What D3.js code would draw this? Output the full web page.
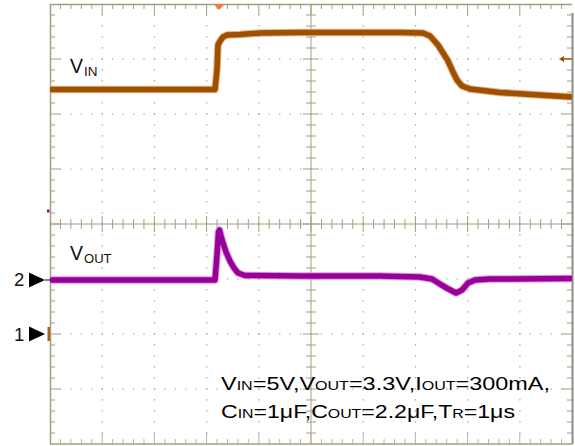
<!DOCTYPE html>
<html><head><meta charset="utf-8">
<script src="https://cdn.jsdelivr.net/npm/d3@7"></script>
<style>body{margin:0;background:#fff;overflow:hidden}</style>
</head><body><svg id="c" width="575" height="446"></svg>
<script>
// Time in horizontal divisions (0..10), levels in vertical divisions (-4..4, 0 = screen centre)
const vinTime  = [0, 3.161, 3.199, 3.218, 3.257, 3.314, 3.391, 3.640, 4.023, 4.789, 6.705, 7.146, 7.280, 7.433, 7.615, 7.720, 7.797, 7.893, 8.046, 8.621, 9.387, 10];
const vinLevel = [2.445, 2.445, 2.80, 3.255, 3.327, 3.40, 3.436, 3.445, 3.473, 3.482, 3.482, 3.473, 3.418, 3.255, 2.982, 2.764, 2.618, 2.509, 2.455, 2.391, 2.345, 2.309];
const voutTime  = [0, 3.161, 3.199, 3.228, 3.247, 3.276, 3.314, 3.372, 3.448, 3.525, 3.602, 3.736, 4.789, 6.322, 7.088, 7.318, 7.471, 7.634, 7.778, 7.893, 8.008, 8.142, 8.429, 10];
const voutLevel = [-1.018, -1.018, -0.564, -0.145, -0.109, -0.218, -0.345, -0.509, -0.673, -0.80, -0.891, -0.936, -0.945, -0.945, -0.964, -1.0, -1.091, -1.182, -1.255, -1.20, -1.073, -1.018, -1.0, -0.991];
const groundMarkers = [{label: "2", level: -1.018}, {label: "1", level: -2.0}];
const triggerTime = 3.24;
const triggerLevel = 3.0;
const hDivs = d3.range(0, 11);
const vDivs = d3.range(-4, 5);
const line1 = [["V",0],["IN",1],["=5V,V",0],["OUT",1],["=3.3V,I",0],["OUT",1],["=300mA,",0]];
const line2 = [["C",0],["IN",1],["=1μF,C",0],["OUT",1],["=2.2μF,T",0],["R",1],["=1μs",0]];

const svg = d3.select("#c");
const x = d3.scaleLinear().domain([0, 10]).range([50, 572]);
const y = d3.scaleLinear().domain([-4, 4]).range([444, 4]);
const frame = "#a39e80", dotC = "#b3ae96";
const g = svg.append("g");

// dotted grid
const minorT = d3.range(1, 50).map(i => i * 0.2);
const minorV = d3.range(-19, 20).map(i => i * 0.2);
hDivs.filter(d => d > 0 && d < 10 && d !== 5).forEach(t => {
  g.selectAll(null).data(minorV.filter(v => Math.abs(v) < 3.95)).enter().append("rect")
    .attr("x", x(t) - 0.5).attr("y", v => y(v) - 1).attr("width", 1.2).attr("height", 1.6).attr("fill", dotC);
});
vDivs.filter(d => d > -4 && d < 4 && d !== 0).forEach(v => {
  g.selectAll(null).data(minorT).enter().append("rect")
    .attr("x", t => x(t) - 0.6).attr("y", y(v) - 0.6).attr("width", 1.3).attr("height", 1.3).attr("fill", dotC);
});

// centre axes
g.append("line").attr("x1", x(0)).attr("x2", x(10)).attr("y1", y(0)).attr("y2", y(0)).attr("stroke", frame);
g.append("line").attr("x1", x(5)).attr("x2", x(5)).attr("y1", y(-4)).attr("y2", y(4)).attr("stroke", frame);
const isMajor = v => Math.abs(v - Math.round(v)) < 1e-6;
g.selectAll(null).data(minorT).enter().append("line")
  .attr("x1", t => x(t)).attr("x2", t => x(t))
  .attr("y1", t => y(0) - (isMajor(t) ? 8 : 5)).attr("y2", t => y(0) + (isMajor(t) ? 8 : 5))
  .attr("stroke", frame);
g.selectAll(null).data(minorV).enter().append("line")
  .attr("y1", v => y(v)).attr("y2", v => y(v))
  .attr("x1", v => x(5) - (isMajor(v) ? 8 : 5)).attr("x2", v => x(5) + (isMajor(v) ? 8 : 5))
  .attr("stroke", frame);

// border ticks
g.selectAll(null).data(minorT).enter().append("line")
  .attr("x1", t => x(t)).attr("x2", t => x(t)).attr("y1", y(4)).attr("y2", t => y(4) + (isMajor(t) ? 11 : 5)).attr("stroke", frame);
g.selectAll(null).data(minorT).enter().append("line")
  .attr("x1", t => x(t)).attr("x2", t => x(t)).attr("y1", y(-4)).attr("y2", t => y(-4) - (isMajor(t) ? 11 : 5)).attr("stroke", "#bdb8a0");
g.selectAll(null).data(minorV).enter().append("line")
  .attr("y1", v => y(v)).attr("y2", v => y(v)).attr("x1", x(0)).attr("x2", v => x(0) + (isMajor(v) ? 10 : 5)).attr("stroke", frame);
g.selectAll(null).data(minorV).enter().append("line")
  .attr("y1", v => y(v)).attr("y2", v => y(v)).attr("x1", x(10)).attr("x2", v => x(10) - (isMajor(v) ? 10 : 5)).attr("stroke", frame);

// frame
g.append("line").attr("x1", x(0)+0.5).attr("x2", x(0)+0.5).attr("y1", y(4)).attr("y2", y(-4)).attr("stroke", frame).attr("stroke-width", 1.5);
g.append("line").attr("x1", x(0)).attr("x2", x(10)).attr("y1", y(4)+0.5).attr("y2", y(4)+0.5).attr("stroke", frame).attr("stroke-width", 1.5);
g.append("line").attr("x1", x(0)).attr("x2", x(10)).attr("y1", y(-4)).attr("y2", y(-4)).attr("stroke", frame).attr("stroke-width", 1.5);
g.append("line").attr("x1", x(10)+0.5).attr("x2", x(10)+0.5).attr("y1", y(4)+9).attr("y2", y(-4)).attr("stroke", "#8e8d84").attr("stroke-width", 2);

// traces
const mk = (ts, vs) => d3.line().x(d => x(ts[d])).y(d => y(vs[d]))(d3.range(ts.length));
const traces = [
  {t: vinTime, v: vinLevel, c: "#9c5000", halo: "#e7b48a"},
  {t: voutTime, v: voutLevel, c: "#990099", halo: "#e09ae0"}
];
traces.forEach(tr => {
  const p = mk(tr.t, tr.v);
  svg.append("path").attr("d", p).attr("fill", "none").attr("stroke", tr.halo).attr("stroke-width", 7.5).attr("stroke-linejoin", "round");
  svg.append("path").attr("d", p).attr("fill", "none").attr("stroke", tr.c).attr("stroke-width", 5.5).attr("stroke-linejoin", "round");
});

// trigger markers
svg.append("path").attr("d", `M${x(triggerTime)-5.5},${y(4)} L${x(triggerTime)+5.5},${y(4)} L${x(triggerTime)},${y(4)+6} Z`).attr("fill", "#f47a3a");
svg.append("path").attr("d", `M${x(10)-13},${y(triggerLevel)} L${x(10)-8},${y(triggerLevel)-3} L${x(10)-8},${y(triggerLevel)+3} Z`).attr("fill", "#9c5000");
svg.append("line").attr("x1", x(10)-9).attr("x2", x(10)).attr("y1", y(triggerLevel)).attr("y2", y(triggerLevel)).attr("stroke", "#9c5000").attr("stroke-width", 1.2);

// ground markers
groundMarkers.forEach(m => {
  const yy = y(m.level);
  svg.append("text").attr("x", 14).attr("y", yy + 6.5).attr("font-family", "Liberation Sans, Arial, sans-serif").attr("font-size", 18.5).attr("fill", "#111").text(m.label);
  svg.append("path").attr("d", `M29,${yy-7.5} L45,${yy} L29,${yy+7.5} Z`).attr("fill", "#000");
});
svg.append("rect").attr("x", 47.5).attr("y", y(-2) - 7).attr("width", 2.5).attr("height", 14).attr("fill", "#b05e1a");
svg.append("rect").attr("x", 47).attr("y", y(0.236) - 1.5).attr("width", 2.5).attr("height", 3).attr("fill", "#990099");
svg.append("line").attr("x1", 45).attr("x2", 50).attr("y1", y(-1.018)).attr("y2", y(-1.018)).attr("stroke", "#000").attr("stroke-width", 1);

// channel labels
const lab = (txt, sub, yy, fs, sfs) => {
  const t = svg.append("text").attr("x", 70).attr("y", yy).attr("font-family", "Liberation Sans, Arial, sans-serif").attr("fill", "#111");
  t.append("tspan").attr("font-size", fs).text(txt);
  t.append("tspan").attr("font-size", sfs).attr("dy", 3).attr("dx", 1).text(sub);
};
lab("V", "IN", 73, 19.5, 13.5);
lab("V", "OUT", 260, 19.5, 13);

// condition text
const cond = (parts, yy, len) => {
  const t = svg.append("text").attr("x", 221).attr("y", yy).attr("font-family", "Liberation Sans, Arial, sans-serif").attr("fill", "#000")
    .attr("textLength", len).attr("lengthAdjust", "spacingAndGlyphs");
  parts.forEach(p => t.append("tspan").attr("font-size", p[1] ? 12 : 17.5).text(p[0]));
};
cond(line1, 390, 329);
cond(line2, 418, 294);
</script></body></html>
